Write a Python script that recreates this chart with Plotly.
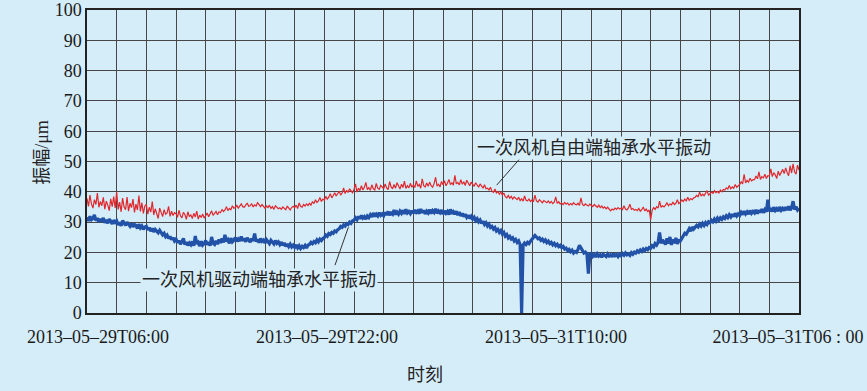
import plotly.graph_objects as go

# ---------------- data ----------------
# sample positions along the time axis, in grid units (24 grid cells, 20 samples each)
sample_pos = [i / 20 for i in range(481)]

# 一次风机自由端轴承水平振动 (red)
free_end = [
    37.8, 35.2, 38.9, 36.0, 34.6, 37.4, 35.8, 39.6, 34.9, 36.8,
    35.4, 38.2, 34.3, 36.9, 35.6, 33.8, 37.7, 35.1, 38.4, 34.7,
    39.9, 34.2, 36.6, 33.4, 37.9, 35.0, 34.1, 38.3, 33.6, 36.2,
    34.8, 37.6, 33.2, 35.9, 34.0, 38.8, 33.5, 36.4, 32.9, 35.3,
    35.8, 32.6, 34.9, 33.3, 36.8, 32.4, 34.4, 33.0, 31.2, 34.6,
    33.4, 31.8, 34.1, 32.6, 33.0, 35.2, 31.9, 33.6, 32.2, 33.1,
    32.8, 31.6, 33.9, 32.1, 31.4, 33.2, 32.5, 30.9, 33.4, 31.8,
    32.4, 31.2, 32.9, 31.7, 33.6, 31.0, 32.3, 31.5, 32.7, 31.3,
    32.1, 33.0, 31.8, 32.6, 33.7, 32.2, 32.9, 33.5, 32.4, 33.4,
    33.1, 34.2, 33.5, 34.0, 35.1, 33.8, 34.5, 34.1, 35.4, 34.6,
    34.8, 35.5, 34.6, 35.2, 36.0, 35.1, 34.9, 35.6, 36.3, 35.2,
    35.4, 36.1, 35.0, 35.7, 35.3, 36.4, 35.6, 35.1, 35.8, 35.0,
    34.6, 35.3, 34.8, 35.6, 34.5, 35.1, 34.2, 35.4, 34.9, 34.4,
    34.7, 34.2, 35.0, 34.5, 34.1, 35.3, 34.6, 34.0, 34.8, 35.2,
    34.8, 35.6, 34.5, 36.3, 35.2, 34.9, 35.8, 35.3, 36.0, 35.5,
    36.2, 35.6, 36.8, 36.1, 37.4, 36.5, 37.0, 38.1, 36.8, 37.6,
    37.2, 38.5, 37.6, 38.2, 39.4, 38.0, 38.8, 39.7, 38.6, 39.3,
    40.2, 38.9, 39.6, 41.3, 39.4, 40.5, 39.8, 41.0, 40.3, 39.7,
    40.8, 42.6, 39.9, 41.2, 40.4, 42.0, 40.6, 41.5, 43.1, 40.7,
    41.4, 40.5, 42.3, 41.0, 40.6, 42.8, 41.2, 40.8, 42.1, 41.5,
    41.0, 42.6, 41.3, 40.7, 43.4, 41.6, 41.0, 42.4, 41.2, 43.0,
    41.6, 40.9, 42.5, 41.4, 43.5, 41.1, 42.0, 41.3, 42.8, 41.5,
    42.2, 41.4, 43.6, 41.8, 42.4, 41.2, 44.3, 42.0, 41.6, 42.9,
    41.8, 43.2, 42.0, 41.5, 42.7, 44.8, 41.9, 42.5, 41.6, 43.4,
    42.3, 43.7, 42.0, 42.8, 44.1, 42.4, 43.0, 42.2, 45.4, 42.6,
    43.1, 42.3, 44.0, 42.5, 43.3, 42.1, 43.8, 42.6, 42.0, 43.2,
    42.5, 41.8, 43.0, 42.2, 41.5, 42.6, 41.9, 41.2, 42.3, 41.0,
    41.2, 40.6, 41.5, 40.2, 39.8, 40.9, 39.6, 40.1, 39.2, 39.9,
    38.9, 39.6, 38.4, 38.0, 38.8, 37.9, 38.5, 37.6, 38.3, 37.8,
    37.4, 38.2, 37.1, 37.7, 36.9, 38.6, 37.2, 37.0, 37.6, 36.8,
    37.3, 36.8, 38.9, 37.0, 36.6, 37.4, 36.9, 36.4, 37.1, 36.7,
    36.4, 37.0, 36.3, 36.8, 36.1, 36.6, 38.3, 36.2, 36.7, 36.0,
    36.2, 35.8, 36.5, 35.9, 36.3, 35.6, 36.1, 35.7, 36.4, 35.9,
    35.7, 36.2, 35.5, 38.0, 35.8, 35.4, 36.0, 35.6, 35.3, 35.9,
    35.5, 35.1, 35.8, 35.2, 34.9, 35.6, 34.8, 35.3, 34.6, 35.0,
    34.4, 34.9, 34.1, 33.7, 34.3, 34.0, 34.6, 34.2, 34.8, 34.3,
    34.6, 34.1, 35.4, 34.3, 34.0, 34.7, 35.9, 34.2, 34.5, 33.9,
    34.2, 33.8, 34.5, 33.6, 34.1, 35.0, 33.7, 34.3, 33.5, 34.0,
    30.8, 33.9, 34.8, 34.2, 35.1, 34.6, 36.9, 34.9, 35.4, 35.0,
    35.6, 36.3, 35.4, 36.0, 35.7, 36.6, 35.8, 36.2, 37.4, 36.1,
    36.6, 37.3, 36.8, 37.6, 37.0, 38.2, 37.2, 37.8, 37.4, 38.0,
    38.2, 38.8, 38.4, 39.9, 38.6, 39.2, 38.7, 39.4, 40.4, 38.9,
    39.3, 39.9, 39.5, 40.4, 39.7, 40.1, 39.6, 40.6, 40.0, 40.8,
    40.6, 41.3, 40.9, 42.1, 41.0, 41.6, 41.2, 42.4, 41.5, 42.0,
    42.4, 43.3, 42.6, 45.8, 42.9, 43.8, 43.2, 44.5, 43.6, 44.0,
    44.0, 45.2, 44.3, 46.6, 44.1, 45.0, 44.6, 45.8, 44.4, 45.3,
    45.2, 47.6, 45.0, 46.3, 45.6, 44.4, 46.8, 45.4, 46.2, 47.4,
    46.0, 47.9, 46.4, 45.3, 48.6, 46.2, 49.2, 46.6, 45.8, 48.8,
    47.2,
]

# 一次风机驱动端轴承水平振动 (blue)
drive_end = [
    31.6, 30.4, 31.9, 30.8, 31.2, 32.4, 30.5, 31.3, 30.1, 31.0,
    30.2, 31.4, 29.8, 30.7, 29.6, 31.0, 30.3, 29.4, 30.6, 29.9,
    30.4, 29.1, 29.9, 28.8, 30.5, 29.4, 28.9, 30.0, 29.2, 28.6,
    29.5, 28.4, 29.2, 28.9, 27.9, 29.3, 28.1, 28.7, 27.6, 28.4,
    28.6, 27.4, 28.2, 27.0, 27.9, 26.8, 27.6, 27.1, 26.5, 27.3,
    26.6, 25.8, 26.3, 25.2, 25.7, 24.6, 25.3, 24.2, 24.9, 23.8,
    24.4, 23.2, 23.9, 22.7, 23.5, 24.6, 22.6, 23.4, 22.3, 23.1,
    22.5, 23.6, 22.2, 25.4, 22.8, 23.3, 22.1, 23.7, 22.4, 22.9,
    23.9, 22.5, 23.4, 22.2, 25.1, 23.0, 22.6, 23.8, 22.7, 24.3,
    23.1, 24.6, 23.3, 25.8, 23.6, 24.2, 23.0, 24.7, 23.5, 24.0,
    24.9, 23.6, 24.4, 23.8, 25.2, 23.9, 24.6, 23.5, 24.8, 24.0,
    23.4, 24.5, 23.8, 26.2, 23.6, 24.3, 23.2, 24.6, 23.7, 24.1,
    23.1, 24.2, 23.4, 22.9, 24.0, 23.3, 22.8, 23.9, 23.0, 23.5,
    22.6, 23.4, 22.3, 23.1, 22.0, 22.8, 21.9, 22.7, 21.8, 22.4,
    21.7, 22.5, 21.5, 22.2, 21.3, 22.0, 21.6, 22.3, 21.5, 22.4,
    22.6, 23.3, 22.9, 23.6, 23.2, 24.1, 23.5, 24.4, 23.9, 24.6,
    24.9, 25.7, 25.3, 26.2, 25.9, 26.6, 26.3, 27.1, 26.8, 27.5,
    27.8, 28.6, 28.3, 29.1, 28.7, 29.5, 29.2, 30.0, 29.6, 30.4,
    30.6, 31.4, 30.8, 31.9, 31.1, 32.2, 31.3, 31.8, 31.0, 32.0,
    31.5, 32.4, 31.7, 33.0, 31.9, 32.6, 32.0, 33.1, 32.2, 32.7,
    32.1, 33.2, 32.4, 33.5, 32.3, 33.0, 32.6, 34.0, 32.5, 33.3,
    32.6, 33.6, 32.9, 33.9, 32.7, 34.2, 33.0, 33.5, 32.8, 33.8,
    32.9, 34.0, 33.2, 33.7, 32.8, 34.3, 33.1, 33.9, 32.7, 33.6,
    33.0, 34.1, 32.8, 33.8, 33.2, 34.4, 32.9, 33.7, 33.1, 34.0,
    32.6, 33.7, 32.9, 33.5, 32.5, 34.2, 32.8, 33.4, 32.6, 33.6,
    32.3, 33.3, 32.0, 32.9, 31.8, 32.6, 31.6, 32.3, 31.2, 31.9,
    31.0, 31.6, 30.5, 31.1, 30.1, 30.7, 29.6, 30.3, 29.2, 29.8,
    28.7, 29.3, 28.2, 28.6, 27.7, 28.2, 27.1, 27.6, 26.6, 27.2,
    26.1, 26.6, 25.4, 25.9, 24.8, 25.3, 24.4, 24.8, 23.8, 24.3,
    23.3, 23.8, 22.6, 0.0, 22.4, 23.1, 22.6, 23.3, 22.9, 23.7,
    24.3, 24.9, 25.6, 25.1, 24.5, 24.8, 24.0, 24.4, 23.6, 24.1,
    23.2, 23.7, 22.9, 23.3, 22.5, 23.0, 22.2, 22.7, 21.9, 22.3,
    21.6, 22.0, 21.1, 21.4, 20.6, 21.0, 20.2, 20.7, 19.8, 20.3,
    20.0, 21.0, 22.3, 21.5, 20.5, 19.8, 20.1, 19.6, 13.0, 19.3,
    19.6, 18.7, 19.3, 18.5, 19.5, 18.8, 19.2, 18.4, 19.4, 18.9,
    18.6, 19.5, 18.8, 19.2, 18.5, 19.6, 18.9, 19.3, 18.6, 19.4,
    18.9, 19.6, 19.1, 19.8, 19.2, 19.5, 19.0, 19.9, 19.4, 20.1,
    19.8, 20.5, 20.1, 20.8, 20.3, 21.1, 20.6, 21.3, 20.9, 21.6,
    21.4, 22.2, 21.8, 22.9, 22.4, 23.3, 26.6, 23.0, 24.1, 23.4,
    22.6, 24.6, 22.9, 25.1, 22.5, 24.3, 23.0, 24.8, 22.8, 23.9,
    23.8, 24.6, 25.4, 26.3, 26.0, 27.2, 27.8, 27.0, 28.4, 27.7,
    28.2, 28.9, 28.4, 29.3, 28.7, 29.6, 28.9, 29.8, 29.2, 30.1,
    29.8, 30.6, 30.1, 31.0, 30.3, 31.3, 30.6, 31.4, 30.9, 31.7,
    31.2, 32.1, 31.5, 32.4, 31.7, 32.6, 31.8, 32.9, 32.0, 32.7,
    32.2, 33.2, 32.5, 33.6, 32.7, 33.4, 32.6, 33.8, 32.9, 33.5,
    33.0, 34.0, 32.8, 33.9, 33.2, 34.3, 33.1, 34.1, 33.4, 37.4,
    33.6, 34.6, 33.5, 34.9, 33.8, 34.4, 33.6, 35.0, 33.9, 34.5,
    33.8, 34.9, 34.0, 35.2, 33.9, 34.7, 36.9, 34.2, 35.1, 34.0,
    34.6,
]

tick_labels = ["2013–05–29T06:00", "2013–05–29T22:00", "2013–05–31T10:00", "2013–05–31T06 : 00"]
tick_label_pos = [0.37, 8.09, 15.81, 23.63]
y_ticks = [0, 10, 20, 30, 40, 50, 60, 70, 80, 90, 100]

label_drive = "一次风机驱动端轴承水平振动"
label_free = "一次风机自由端轴承水平振动"
y_title = "振幅/μm"
x_title = "时刻"

# ---------------- styling ----------------
BG = "#d5ecf9"
GRID = "#474747"
RED = "#e0282c"
BLUE = "#2152a8"
TXT = "#1a1a1a"
SERIF = "'Liberation Serif', 'Times New Roman', 'Noto Sans CJK SC', serif"

fig = go.Figure()
fig.add_trace(go.Scatter(x=sample_pos, y=free_end, mode="lines", name=label_free,
                         line=dict(color=RED, width=1.2)))
fig.add_trace(go.Scatter(x=sample_pos, y=drive_end, mode="lines", name=label_drive,
                         line=dict(color=BLUE, width=3.2)))

axis_font = dict(family=SERIF, size=18, color=TXT)

fig.update_layout(
    width=867, height=391,
    margin=dict(l=87, r=68, t=10, b=78, autoexpand=False),
    paper_bgcolor=BG, plot_bgcolor=BG,
    showlegend=False,
    xaxis=dict(
        range=[0, 24], tickmode="array", tickvals=tick_label_pos, ticktext=tick_labels,
        showgrid=False, zeroline=False, ticks="", automargin=False,
        ticklabelstandoff=7,
        minor=dict(tickmode="linear", tick0=0, dtick=1, showgrid=True,
                   gridcolor=GRID, gridwidth=1.3, ticks=""),
        showline=True, linecolor="#222222", linewidth=1.5, mirror=True,
        tickfont=axis_font,
    ),
    yaxis=dict(
        range=[0, 100], tickmode="array", tickvals=y_ticks, automargin=False,
        showgrid=True, gridcolor=GRID, gridwidth=1.3, zeroline=False, ticks="",
        showline=True, linecolor="#222222", linewidth=1.5, mirror=True,
        tickfont=axis_font,
    ),
)

# leader lines
fig.add_shape(type="line", xref="x", yref="y", x0=8.36, y0=15.8, x1=8.81, y1=28.3,
              line=dict(color="#333333", width=1))
fig.add_shape(type="line", xref="x", yref="y", x0=14.57, y0=50.7, x1=13.81, y1=42.2,
              line=dict(color="#333333", width=1))

lab_font = dict(family=SERIF, size=18, color="#222222")
fig.add_annotation(x=5.80, y=10.8, xref="x", yref="y", text=label_drive, showarrow=False,
                   font=lab_font, bgcolor=BG, xanchor="center", yanchor="middle")
fig.add_annotation(x=17.08, y=54.4, xref="x", yref="y", text=label_free, showarrow=False,
                   font=lab_font, bgcolor=BG, xanchor="center", yanchor="middle")

# axis titles
fig.add_annotation(x=-0.0636, y=0.531, xref="paper", yref="paper", text=y_title,
                   textangle=-90, showarrow=False, font=lab_font,
                   xanchor="center", yanchor="middle")
fig.add_annotation(x=0.4754, y=-0.2036, xref="paper", yref="paper", text=x_title,
                   showarrow=False, font=lab_font, xanchor="center", yanchor="middle")

fig.write_html("out.html", config={"displayModeBar": False},
               post_script="document.body.style.margin='0';document.body.style.background='" + BG + "';")
